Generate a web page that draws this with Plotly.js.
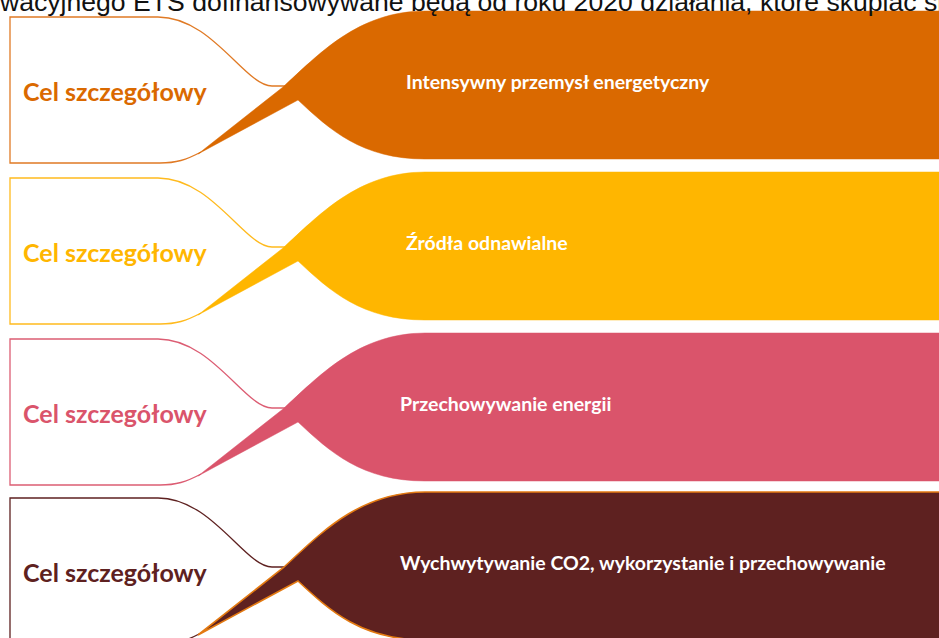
<!DOCTYPE html>
<html>
<head>
<meta charset="utf-8">
<script src="https://cdn.plot.ly/plotly-3.0.1.min.js"></script>
<style>html,body{margin:0;padding:0;background:#fff;}#chart{width:939px;height:638px;}</style>
</head>
<body>
<div id="chart"></div>
<script>
// ---- content ----
const headerText = "wacyjnego ETS dofinansowywane będą od roku 2020 działania, które skupiać się";
const leftLabels = ["Cel szczegółowy", "Cel szczegółowy", "Cel szczegółowy", "Cel szczegółowy"];
const areaLabels = [
  "Intensywny przemysł energetyczny",
  "Źródła odnawialne",
  "Przechowywanie energii",
  "Wychwytywanie CO2, wykorzystanie i przechowywanie"
];
const fillColors    = ["#DA6900", "#FFB600", "#DA546B", "#5E2120"];
const outlineColors = ["#E07A25", "#FFBA1E", "#DC5D73", "#5E2120"];
const fillEdgeColors = ["#DA6900", "#FFB600", "#DA546B", "#E37A12"];

// ---- layout helpers (panel geometry template, shifted per panel) ----
const W = 939, H = 638;
const panelOffsets = [0, 161, 322, 481];

function pt(x, y, dy) { return x + "," + (y + dy); }

function outlinePath(dy) {
  return "M " + pt(201, 152, dy) +
         " C " + pt(186, 160, dy) + " " + pt(176, 163, dy) + " " + pt(160, 163, dy) +
         " L " + pt(10, 163, dy) +
         " L " + pt(10, 17, dy) +
         " L " + pt(158, 17, dy) +
         " C " + pt(212, 17, dy) + " " + pt(245, 86, dy) + " " + pt(272, 86, dy) +
         " L " + pt(286, 86, dy);
}

function fillPath(dy) {
  return "M " + pt(198, 154, dy) +
         " L " + pt(283, 87, dy) +
         " C " + pt(318, 55, dy) + " " + pt(358, 11, dy) + " " + pt(425, 11, dy) +
         " L " + pt(950, 11, dy) +
         " L " + pt(950, 159, dy) +
         " L " + pt(425, 159, dy) +
         " C " + pt(362, 159, dy) + " " + pt(330, 130, dy) + " " + pt(298, 100, dy) +
         " Z";
}

const shapes = [];
const annotations = [];

annotations.push({
  x: 0, y: 1, xref: "paper", yref: "paper", xanchor: "left", yanchor: "middle",
  xshift: -3, yshift: -2,
  text: headerText, showarrow: false,
  font: {family: "Liberation Sans, Arial, sans-serif", size: 26.6, color: "#111"}
});

panelOffsets.forEach((dy, i) => {
  shapes.push({
    type: "path", xref: "x", yref: "y", layer: "above",
    path: outlinePath(dy),
    line: {color: outlineColors[i], width: 1.3},
    fillcolor: "rgba(0,0,0,0)"
  });
  shapes.push({
    type: "path", xref: "x", yref: "y", layer: "above",
    path: fillPath(dy),
    line: {color: fillEdgeColors[i], width: i === 3 ? 1.6 : 0.5},
    fillcolor: fillColors[i]
  });
  annotations.push({
    x: 21, y: 91 + dy, xref: "x", yref: "y", xanchor: "left", yanchor: "middle",
    text: "<b>" + leftLabels[i] + "</b>", showarrow: false,
    font: {family: "Lato, 'Open Sans', sans-serif", size: 25, color: fillColors[i]}
  });
  annotations.push({
    x: i < 2 ? 404 : 398, y: 81 + dy, xref: "x", yref: "y", xanchor: "left", yanchor: "middle",
    text: "<b>" + areaLabels[i] + "</b>", showarrow: false,
    font: {family: "Lato, 'Open Sans', sans-serif", size: 19.5, color: "#ffffff"}
  });
});

const data = [{
  type: "scatter", mode: "markers", x: [0, W], y: [0, H],
  marker: {opacity: 0}, hoverinfo: "skip", showlegend: false
}];

const layout = {
  width: W, height: H,
  margin: {l: 0, r: 0, t: 0, b: 0},
  paper_bgcolor: "#ffffff", plot_bgcolor: "#ffffff",
  xaxis: {range: [0, W], visible: false, fixedrange: true},
  yaxis: {range: [H, 0], visible: false, fixedrange: true},
  shapes: shapes,
  annotations: annotations,
  showlegend: false
};

Plotly.newPlot("chart", data, layout, {displayModeBar: false, staticPlot: true});
</script>
</body>
</html>
